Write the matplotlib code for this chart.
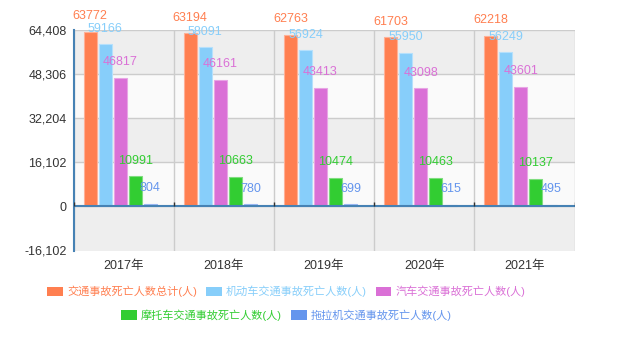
import numpy as np
import matplotlib
matplotlib.use("Agg")
from matplotlib import pyplot as plt
from matplotlib.patches import Patch

plt.rcParams['font.family'] = ['Liberation Sans', 'Noto Sans CJK SC', 'DejaVu Sans']

years = ['2017年', '2018年', '2019年', '2020年', '2021年']
series_names = [
    '交通事故死亡人数总计(人)',
    '机动车交通事故死亡人数(人)',
    '汽车交通事故死亡人数(人)',
    '摩托车交通事故死亡人数(人)',
    '拖拉机交通事故死亡人数(人)',
]
total = [63772, 63194, 62763, 61703, 62218]
motor = [59166, 58091, 56924, 55950, 56249]
car = [46817, 46161, 43413, 43098, 43601]
moto = [10991, 10663, 10474, 10463, 10137]
tractor = [804, 780, 699, 615, 495]
y_ticks = [-16102, 0, 16102, 32204, 48306, 64408]

colors = ['#ff7f50', '#87cefa', '#da70d6', '#32cd32', '#6495ed']
edges = ['#ffb096', '#b5e0fc', '#e8a5e5', '#7fdd7f', '#9bb8f3']
values = [total, motor, car, moto, tractor]

fig = plt.figure(figsize=(6.41, 3.41), dpi=100)
ax = fig.add_axes([73.5 / 641, 90.5 / 341, 501 / 641, 220.5 / 341])

# alternating background bands
for i in range(len(y_ticks) - 1):
    c = '#eeeeee' if i % 2 == 0 else '#fafafa'
    ax.axhspan(y_ticks[i], y_ticks[i + 1], color=c, zorder=0, lw=0)
for t in y_ticks[1:]:
    ax.axhline(t, color='#cccccc', lw=1, zorder=1)
x = np.arange(len(years))
for b in np.arange(len(years) + 1) - 0.5:
    ax.axvline(b, color='#cccccc', lw=1, zorder=1)

offsets = [-0.335, -0.185, -0.035, 0.115, 0.265]
for vals, off, c, ec in zip(values, offsets, colors, edges):
    bars = ax.bar(x + off, vals, width=0.13, color=c, edgecolor=ec, lw=0.8, zorder=2)
    ax.bar_label(bars, labels=[str(v) for v in vals], padding=7, color=c,
                 fontsize=9, zorder=5)

ax.axhline(0, color='#4682b4', lw=1.5, zorder=3)
ax.vlines(np.arange(len(years) + 1) - 0.5, 0, 1500, color='#333333', lw=1, zorder=3)

ax.set_xlim(-0.5, len(years) - 0.5)
ax.set_ylim(y_ticks[0], y_ticks[-1])
ax.set_xticks(x)
ax.set_xticklabels(years)
ax.set_yticks(y_ticks)
ax.set_yticklabels(['{:,}'.format(t) for t in y_ticks])
ax.tick_params(axis='both', length=0, labelsize=9, colors='#333333')
ax.tick_params(axis='x', pad=7)
ax.tick_params(axis='y', pad=5)
for s in ['top', 'bottom', 'right']:
    ax.spines[s].set_visible(False)
ax.spines['left'].set_color('#4682b4')
ax.spines['left'].set_linewidth(1.5)

handles = [Patch(facecolor=c, edgecolor='none') for c in colors]
leg_kw = dict(frameon=False, fontsize=8, handlelength=1.4, handleheight=0.9,
              handletextpad=0.4, columnspacing=0.8, loc='center')
fig.legend(handles[:3], series_names[:3], ncol=3, labelcolor=colors[:3],
           bbox_to_anchor=(286.5 / 641, 1 - 291.5 / 341), **leg_kw)
fig.legend(handles[3:], series_names[3:], ncol=2, labelcolor=colors[3:],
           bbox_to_anchor=(286.5 / 641, 1 - 315 / 341), **leg_kw)

fig.savefig('out.png', dpi=100)
